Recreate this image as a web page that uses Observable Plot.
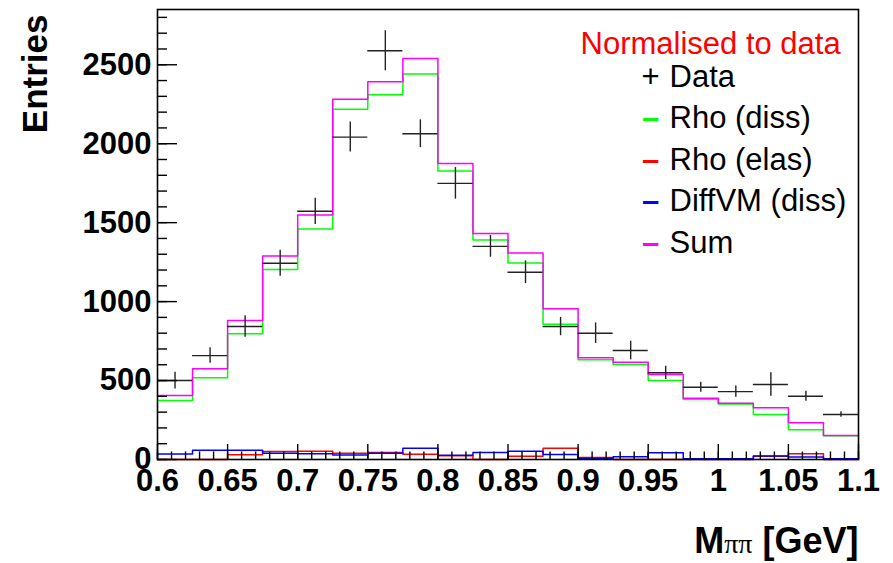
<!DOCTYPE html>
<html>
<head>
<meta charset="utf-8">
<script src="https://cdn.jsdelivr.net/npm/d3@7"></script>
<script src="https://cdn.jsdelivr.net/npm/@observablehq/plot@0.6"></script>
<style>
  html, body { margin: 0; padding: 0; background: #fff; }
  svg { display: block; }
</style>
</head>
<body>
<div id="chart"></div>
<script>
// ---- data ----
const binLow = [0.600, 0.625, 0.650, 0.675, 0.700, 0.725, 0.750, 0.775, 0.800, 0.825,
                0.850, 0.875, 0.900, 0.925, 0.950, 0.975, 1.000, 1.025, 1.050, 1.075];
const binWidth = 0.025;
const dataValues = [500, 658, 842, 1243, 1572, 2042, 2589, 2063, 1749, 1350,
                    1186, 842, 800, 690, 549, 458, 430, 475, 401, 285];
const dataErrors = [53, 49, 68, 82, 83, 95, 127, 88, 100, 69,
                    72, 58, 65, 59, 42, 32, 35, 74, 32, 18];
const rhoDiss = [373, 517, 796, 1203, 1460, 2219, 2310, 2441, 1827, 1390,
                 1245, 856, 631, 601, 500, 380, 352, 285, 188, 150];
const rhoElas = [0, 0, 30, 50, 53, 39, 45, 33, 23, 0,
                 20, 71, 13, 0, 0, 0, 0, 20, 36, 0];
const diffVM = [35, 59, 59, 40, 37, 28, 40, 71, 27, 44,
                53, 31, 8, 18, 43, 4, 4, 22, 16, 4];
const sumMC = [405, 574, 880, 1289, 1549, 2281, 2392, 2540, 1875, 1432,
               1308, 954, 644, 616, 538, 388, 356, 327, 232, 152];

const xTicks = [0.6, 0.65, 0.7, 0.75, 0.8, 0.85, 0.9, 0.95, 1, 1.05, 1.1];
const yTicks = [0, 500, 1000, 1500, 2000, 2500];
const legendTitle = "Normalised to data";
const legendLabels = ["Data", "Rho (diss)", "Rho (elas)", "DiffVM (diss)", "Sum"];
const legendMarkers = ["+", "\u2013", "\u2013", "\u2013", "\u2013"];
const legendColors = ["#000000", "#00ff00", "#ff0000", "#0000ff", "#ff00ff"];
const yLabel = "Entries";
const xLabel = "M\u03c0\u03c0 [GeV]";

// ---- derived tables ----
const xMinor = d3.range(60, 111).map(d => d / 100);
const yMinor = d3.range(0, 2801, 100);
function steps(values) {
  const pts = [];
  values.forEach((v, i) => {
    pts.push({x: binLow[i], y: v});
    pts.push({x: binLow[i] + binWidth, y: v});
  });
  return pts;
}
const points = binLow.map((lo, i) => ({
  lo, hi: lo + binWidth, c: lo + binWidth / 2,
  v: dataValues[i], e: dataErrors[i]
}));

const FONT = "'Liberation Sans', Arial, Helvetica, sans-serif";
const LEG = 31;

const marks = [
  // histograms
  Plot.line(steps(rhoElas), {x: "x", y: "y", stroke: legendColors[2], strokeWidth: 1.5}),
  Plot.line(steps(diffVM), {x: "x", y: "y", stroke: legendColors[3], strokeWidth: 1.5}),
  Plot.line(steps(rhoDiss), {x: "x", y: "y", stroke: legendColors[1], strokeWidth: 1.5}),
  Plot.line(steps(sumMC), {x: "x", y: "y", stroke: legendColors[4], strokeWidth: 1.5}),
  // data crosses
  Plot.ruleY(points, {y: "v", x1: "lo", x2: "hi", stroke: "#222", strokeWidth: 1.4}),
  Plot.ruleX(points, {x: "c", y1: d => d.v - d.e, y2: d => d.v + d.e, stroke: "#222", strokeWidth: 1.4}),
  // frame
  Plot.frame({stroke: "#000", strokeWidth: 1.6}),
  // inner ticks
  Plot.axisY(yTicks, {tickSize: -20, tickFormat: () => "", label: null, strokeWidth: 1.4}),
  Plot.axisY(yMinor, {tickSize: -10, tickFormat: () => "", label: null, strokeWidth: 1.4}),
  Plot.axisX(xTicks, {tickSize: -15, tickFormat: () => "", label: null, strokeWidth: 1.4}),
  Plot.axisX(xMinor, {tickSize: -7.5, tickFormat: () => "", label: null, strokeWidth: 1.4}),
  // tick labels
  Plot.axisY(yTicks, {tickSize: 0, tickPadding: 6, label: null, fontSize: 31, fontWeight: "bold",
                      tickFormat: d => String(d)}),
  Plot.axisX(xTicks, {tickSize: 0, tickPadding: 9, label: null, fontSize: 31, fontWeight: "bold",
                      tickFormat: d => String(+d.toFixed(2))}),
  // axis titles
  Plot.text([yLabel], {frameAnchor: "top-left", dx: -111, dy: 5, rotate: -90,
                       textAnchor: "end", lineAnchor: "bottom", fontSize: 35, fontWeight: "bold", fill: "#000"}),
  Plot.text([xLabel], {frameAnchor: "bottom-right", dx: 0, dy: 93,
                       textAnchor: "end", lineAnchor: "bottom", fontSize: 36, fontWeight: "bold", fill: "#000"}),
  // legend
  Plot.text([legendTitle], {frameAnchor: "top-left", dx: 423, dy: 44, textAnchor: "start",
                            lineAnchor: "bottom", fontSize: LEG, fill: "#ff0000"}),
  ...legendLabels.map((lab, i) => Plot.text([lab], {frameAnchor: "top-left", dx: 512, dy: 77 + i * 41.5,
                            textAnchor: "start", lineAnchor: "bottom", fontSize: LEG, fill: "#000"})),
  ...legendMarkers.map((m, i) => Plot.text([m], {frameAnchor: "top-left", dx: 493, dy: 77 + i * 41.5,
                            textAnchor: "middle", lineAnchor: "bottom", fontSize: LEG,
                            fontWeight: i === 0 ? "normal" : "bold", fill: legendColors[i]}))
];

const chart = Plot.plot({
  width: 893,
  height: 563,
  marginLeft: 157,
  marginRight: 35,
  marginTop: 9,
  marginBottom: 104,
  style: {fontFamily: FONT, background: "#fff", color: "#000"},
  x: {domain: [0.6, 1.1], label: null},
  y: {domain: [0, 2850], label: null},
  marks
});

// x-axis title: M bold, pi pi in a serif face
d3.select(chart).selectAll("text").filter(function () { return this.textContent === xLabel; })
  .each(function () {
    const t = d3.select(this);
    t.text(null);
    t.append("tspan").attr("font-weight", "bold").text("M");
    t.append("tspan").attr("font-weight", "normal").attr("font-family", "'Liberation Serif', serif")
      .attr("font-size", 28).text("\u03c0\u03c0");
    t.append("tspan").attr("font-weight", "bold").text(" [GeV]");
  });

document.getElementById("chart").appendChild(chart);
</script>
</body>
</html>
